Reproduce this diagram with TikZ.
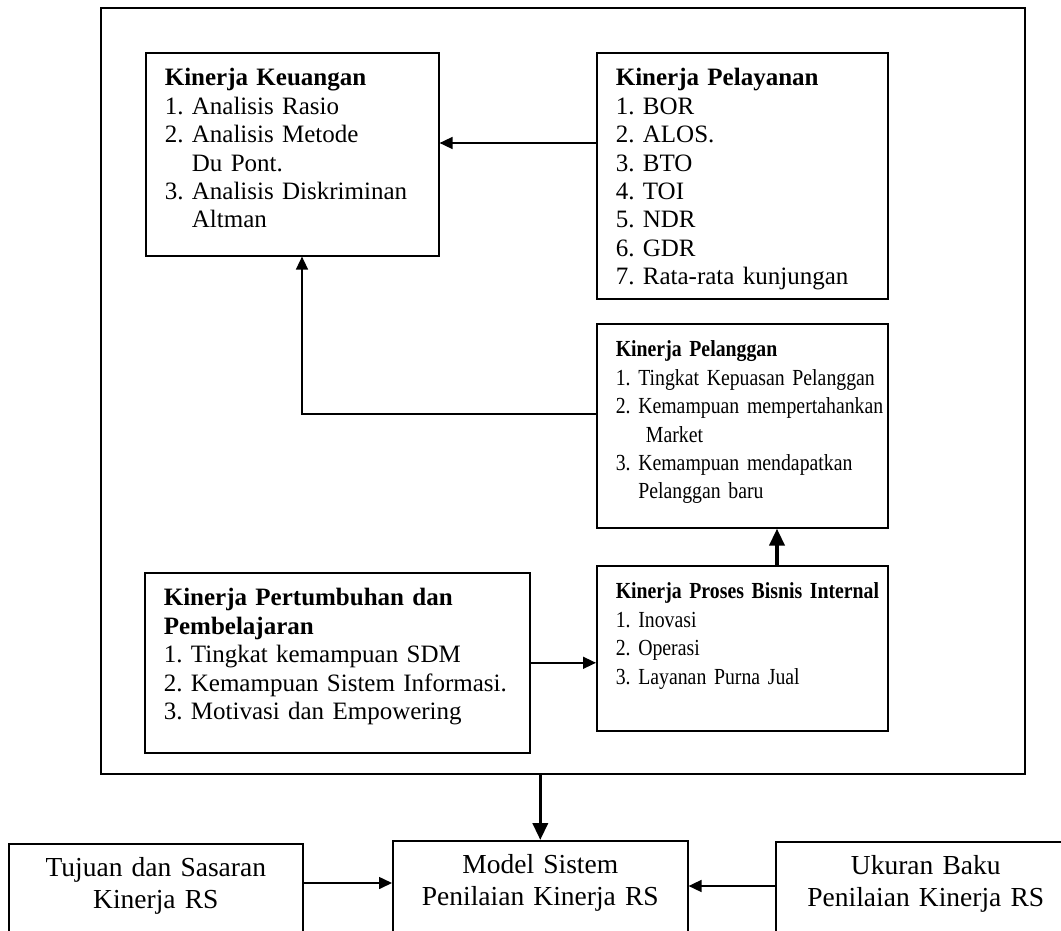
\documentclass[tikz,border=0pt]{standalone}
\usepackage{fontspec}
\setmainfont{Liberation Serif}
\newfontfamily\sempit[FakeStretch=0.86]{Liberation Serif}
\usetikzlibrary{arrows.meta}

\tikzset{
  kotak/.style={draw, line width=1.6pt, align=left, anchor=north west,
    inner xsep=19pt, inner ysep=13pt, text height=20pt},
  kecil/.style={font=\sempit\fontsize{23}{28.4}\selectfont},
  bawah/.style={draw, line width=1.6pt, align=center, anchor=north west,
    inner xsep=0pt, inner ysep=13pt, text height=20pt, text depth=70pt,
    font=\fontsize{27.5}{32}\selectfont},
  arr/.style={line width=1.6pt, -{Triangle[length=13pt,width=12pt]}},
  tebal/.style={line width=3.6pt, -{Triangle[length=17pt,width=15pt]}}
}

\begin{document}
\frenchspacing
\begin{tikzpicture}[x=1pt, y=-1pt, font=\fontsize{25}{28.4}\selectfont]
          \useasboundingbox (0,0) rectangle (1061,930);
          \clip (0,0) rectangle (1061,930);

          % Frame round the four perspectives
          \node[draw, line width=1.6pt, inner sep=0pt, anchor=north west,
            minimum width=924pt, minimum height=766pt] (luar) at (100,7) {};

          % Boxes of the four perspectives
          \node[kotak, text width=255pt, text depth=157pt] (uang) at (145,52)
            {\textbf{Kinerja Keuangan}\\
             1. Analisis Rasio\\
             2. Analisis Metode\\
             \phantom{2. }Du Pont.\\
             3. Analisis Diskriminan\\
             \phantom{3. }Altman};
          \node[kotak, text width=253pt, text depth=200pt] (layan) at (596,52)
            {\textbf{Kinerja Pelayanan}\\
             1. BOR\\
             2. ALOS.\\
             3. BTO\\
             4. TOI\\
             5. NDR\\
             6. GDR\\
             7. Rata-rata kunjungan};
          \node[kotak, kecil, text width=253pt, text depth=158pt] (langgan) at (596,323)
            {\textbf{Kinerja Pelanggan}\\
             \mbox{1. Tingkat Kepuasan Pelanggan}\\
             \mbox{2. Kemampuan mempertahankan}\\
             \phantom{2. } Market\\
             \mbox{3. Kemampuan mendapatkan}\\
             \phantom{3. }Pelanggan baru};
          \node[kotak, kecil, text width=253pt, text depth=119pt] (proses) at (596,565)
            {\mbox{\textbf{Kinerja Proses Bisnis Internal}}\\
             1. Inovasi\\
             2. Operasi\\
             3. Layanan Purna Jual};
          \node[kotak, text width=347pt, text depth=134pt] (tumbuh) at (144,572)
            {\textbf{Kinerja Pertumbuhan dan}\\
             \textbf{Pembelajaran}\\
             1. Tingkat kemampuan SDM\\
             \mbox{2. Kemampuan Sistem Informasi.}\\
             3. Motivasi dan Empowering};

          % Boxes below the frame
          \node[bawah, text width=295pt] (model) at (392,840)
            {Model Sistem\\ Penilaian Kinerja RS};
          \node[bawah, text width=294pt] (tujuan) at (8,843)
            {Tujuan dan Sasaran\\ Kinerja RS};
          \node[bawah, text width=300pt] (ukuran) at (775,841)
            {Ukuran Baku\\ Penilaian Kinerja RS};

          % Connectors
          \draw[arr] (layan.west |- 0,143) -- (uang.east |- 0,143);
          \draw[arr] (langgan.west |- 0,414) -| (uang.south -| 302,0);
          \draw[tebal] (proses.north -| 777,0) -- (langgan.south -| 777,0);
          \draw[arr] (tumbuh.east) -- (proses.west |- tumbuh.east);
          \draw[tebal] (model.north |- luar.south) -- (model.north);
          \draw[arr] (tujuan.east |- 0,883) -- (model.west |- 0,883);
          \draw[arr] (ukuran.west |- 0,886) -- (model.east |- 0,886);
        \end{tikzpicture}
\end{document}
